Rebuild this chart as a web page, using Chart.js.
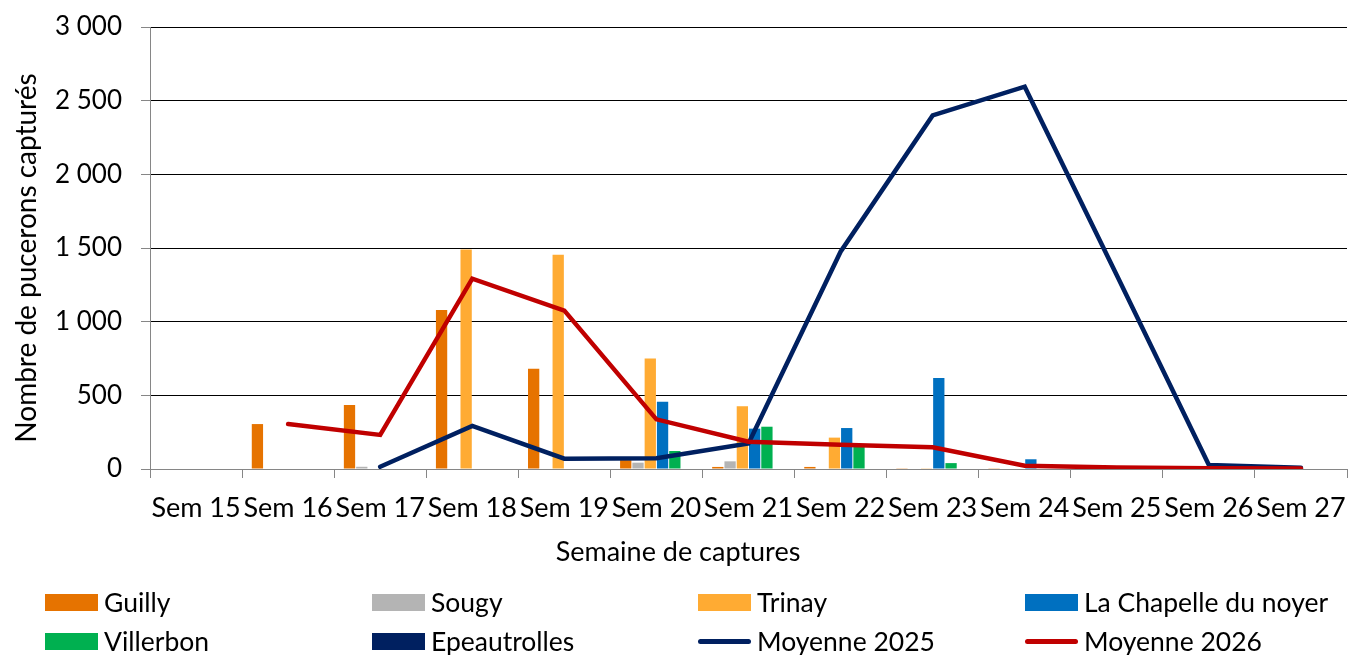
<!DOCTYPE html>
<html>
<head>
<meta charset="utf-8">
<script src="https://cdn.jsdelivr.net/npm/chart.js@4"></script>
<style>
  html, body { margin: 0; padding: 0; background: #fff; }
  #wrap { position: relative; width: 1348px; height: 655px; overflow: hidden; }
  #chart { position: absolute; left: 0; top: 0; }
  .leg { position: absolute; font-family: Lato, sans-serif; font-size: 26.5px; color: #000; white-space: nowrap; display: flex; align-items: center; height: 30px; }
  .sw { display: inline-block; width: 53px; height: 17px; margin-right: 6px; }
  .ln { display: inline-block; width: 53px; height: 5px; border-radius: 3px; margin-right: 6px; }
  #titreX { position: absolute; left: 478px; width: 400px; top: 534px; text-align: center; font-family: Lato, sans-serif; font-size: 27px; line-height: 34px; color: #000; }
  #titreY { position: absolute; left: 25px; top: 258px; width: 440px; margin-left: -220px; margin-top: -17px; transform: rotate(-90deg); text-align: center; font-family: Lato, sans-serif; font-size: 28px; line-height: 34px; color: #000; white-space: nowrap; }
</style>
</head>
<body>
<div id="wrap">
  <canvas id="chart" width="1348" height="655"></canvas>
  <div id="titreX">Semaine de captures</div>
  <div id="titreY">Nombre de pucerons capturés</div>
  <div id="legend"></div>
</div>
<script>
const semaines = ['Sem 15', 'Sem 16', 'Sem 17', 'Sem 18', 'Sem 19', 'Sem 20', 'Sem 21', 'Sem 22', 'Sem 23', 'Sem 24', 'Sem 25', 'Sem 26', 'Sem 27'];

const guilly       = [0, 305, 435, 1080, 680, 60, 14, 14, 5, 5, 0, 0, 0];
const sougy        = [0, 0, 15, 0, 0, 43, 52, 0, 0, 0, 0, 0, 0];
const trinay       = [0, 0, 0, 1490, 1455, 750, 426, 213, 5, 0, 0, 0, 0];
const laChapelle   = [0, 0, 0, 0, 0, 457, 274, 278, 618, 66, 0, 0, 0];
const villerbon    = [0, 0, 0, 0, 0, 122, 287, 150, 40, 0, 0, 0, 0];
const epeautrolles = [0, 0, 0, 0, 0, 0, 0, 0, 0, 0, 0, 0, 0];

const moyenne2025 = [null, null, 15, 292, 70, 73, 174, 1475, 2400, 2595, 1315, 27, 8];
const moyenne2026 = [null, 305, 231, 1292, 1075, 337, 185, 165, 147, 22, 10, 5, 3];

const police = 'Lato, sans-serif';

function barre(label, data, couleur) {
    return {
        type: 'bar',
        label: label,
        data: data,
        backgroundColor: couleur,
        borderWidth: 0,
        categoryPercentage: 0.8,
        barPercentage: 0.92,
        order: 3
    };
}

function ligne(label, data, couleur, ordre) {
    return {
        type: 'line',
        label: label,
        data: data,
        borderColor: couleur,
        backgroundColor: couleur,
        borderWidth: 4.5,
        pointRadius: 0,
        tension: 0,
        fill: false,
        spanGaps: false,
        borderCapStyle: 'round',
        order: ordre
    };
}

const series = [
    barre('Guilly', guilly, '#E67300'),
    barre('Sougy', sougy, '#B4B4B4'),
    barre('Trinay', trinay, '#FFAB33'),
    barre('La Chapelle du noyer', laChapelle, '#0070C0'),
    barre('Villerbon', villerbon, '#00B050'),
    barre('Epeautrolles', epeautrolles, '#002060'),
    ligne('Moyenne 2025', moyenne2025, '#002060', 2),
    ligne('Moyenne 2026', moyenne2026, '#C00000', 1)
];

new Chart(document.getElementById('chart'), {
    data: {
        labels: semaines,
        datasets: series
    },
    options: {
        responsive: false,
        animation: false,
        layout: { padding: { top: 27, right: 1, left: 0, bottom: 0 } },
        plugins: {
            legend: { display: false },
            tooltip: { enabled: false }
        },
        scales: {
            x: {
                offset: true,
                grid: {
                    display: true,
                    offset: true,
                    drawOnChartArea: false,
                    tickLength: 9,
                    color: '#868686'
                },
                border: { color: '#868686' },
                ticks: {
                    autoSkip: false,
                    maxRotation: 0,
                    padding: 14,
                    color: '#000',
                    font: { family: police, size: 27 }
                },
                afterFit: (scale) => {
                    scale.height = 186;
                    scale.paddingLeft = 0;
                    scale.paddingRight = 0;
                }
            },
            y: {
                min: 0,
                max: 3000,
                ticks: {
                    stepSize: 500,
                    padding: 19,
                    color: '#000',
                    font: { family: police, size: 26 },
                    callback: (v) => String(v).replace(/\B(?=(\d{3})+(?!\d))/g, ' ')
                },
                grid: {
                    tickLength: 9,
                    color: (ctx) => ctx.index === 0 ? '#868686' : '#000',
                    tickColor: '#868686'
                },
                border: { color: '#868686' },
                afterFit: (scale) => {
                    scale.width = 150;
                    scale.paddingTop = 0;
                    scale.paddingBottom = 0;
                }
            }
        }
    }
});

// legende en grille 4 colonnes, comme dans Excel
const legendeItems = [
    { label: 'Guilly', couleur: '#E67300', ligne: false },
    { label: 'Sougy', couleur: '#B4B4B4', ligne: false },
    { label: 'Trinay', couleur: '#FFAB33', ligne: false },
    { label: 'La Chapelle du noyer', couleur: '#0070C0', ligne: false },
    { label: 'Villerbon', couleur: '#00B050', ligne: false },
    { label: 'Epeautrolles', couleur: '#002060', ligne: false },
    { label: 'Moyenne 2025', couleur: '#002060', ligne: true },
    { label: 'Moyenne 2026', couleur: '#C00000', ligne: true }
];
const colonnesX = [45, 372, 698, 1025];
const lignesY = [587, 626];
const legende = document.getElementById('legend');
legendeItems.forEach((it, i) => {
    const d = document.createElement('div');
    d.className = 'leg';
    d.style.left = colonnesX[i % 4] + 'px';
    d.style.top = lignesY[Math.floor(i / 4)] + 'px';
    const s = document.createElement('span');
    s.className = it.ligne ? 'ln' : 'sw';
    s.style.background = it.couleur;
    d.appendChild(s);
    d.appendChild(document.createTextNode(it.label));
    legende.appendChild(d);
});
</script>
</body>
</html>
